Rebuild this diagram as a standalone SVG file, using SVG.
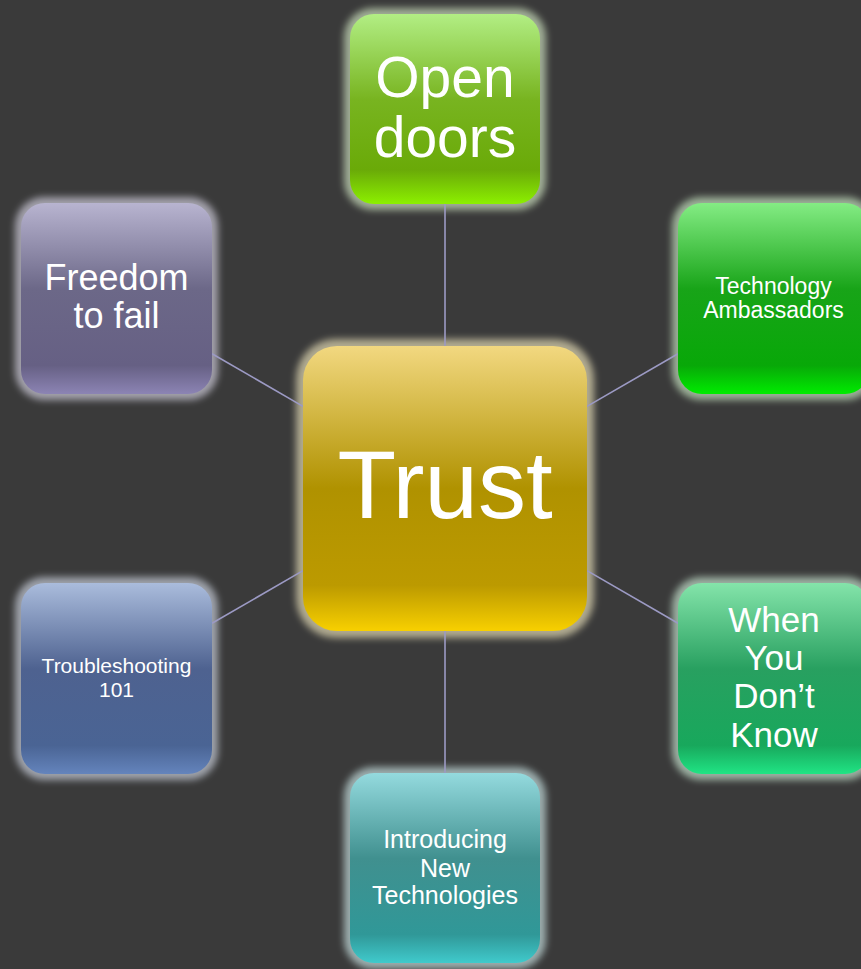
<svg xmlns="http://www.w3.org/2000/svg" width="861" height="969" viewBox="0 0 861 969">
  <style>
    .label { font-family: "Liberation Sans", Arial, sans-serif; fill: #ffffff; text-anchor: middle; }
    .link { stroke: #9c9ac4; stroke-width: 1.6; fill: none; }
    .halo { filter: url(#soft); }
  </style>
  <defs>
    <filter id="soft" x="-20%" y="-20%" width="140%" height="140%">
      <feGaussianBlur stdDeviation="3.5"/>
    </filter>
    <linearGradient id="gOpen" x1="0" y1="0" x2="0" y2="1">
      <stop offset="0" stop-color="#b2ee84"/>
      <stop offset="0.45" stop-color="#78b420"/>
      <stop offset="0.82" stop-color="#6aaa08"/>
      <stop offset="1" stop-color="#8cf000"/>
    </linearGradient>
    <linearGradient id="gTrust" x1="0" y1="0" x2="0" y2="1">
      <stop offset="0" stop-color="#f2d880"/>
      <stop offset="0.5" stop-color="#b09200"/>
      <stop offset="0.84" stop-color="#bc9a00"/>
      <stop offset="1" stop-color="#f8d000"/>
    </linearGradient>
    <linearGradient id="gFree" x1="0" y1="0" x2="0" y2="1">
      <stop offset="0" stop-color="#b8b4d0"/>
      <stop offset="0.45" stop-color="#6c6888"/>
      <stop offset="0.85" stop-color="#666084"/>
      <stop offset="1" stop-color="#8c84b4"/>
    </linearGradient>
    <linearGradient id="gAmb" x1="0" y1="0" x2="0" y2="1">
      <stop offset="0" stop-color="#84ec84"/>
      <stop offset="0.45" stop-color="#18a418"/>
      <stop offset="0.85" stop-color="#08a808"/>
      <stop offset="1" stop-color="#00ec00"/>
    </linearGradient>
    <linearGradient id="gTrouble" x1="0" y1="0" x2="0" y2="1">
      <stop offset="0" stop-color="#aabcdc"/>
      <stop offset="0.45" stop-color="#4e6290"/>
      <stop offset="0.85" stop-color="#4a6494"/>
      <stop offset="1" stop-color="#6484bc"/>
    </linearGradient>
    <linearGradient id="gWhen" x1="0" y1="0" x2="0" y2="1">
      <stop offset="0" stop-color="#84e4aa"/>
      <stop offset="0.45" stop-color="#28a060"/>
      <stop offset="0.85" stop-color="#18a85c"/>
      <stop offset="1" stop-color="#20e484"/>
    </linearGradient>
    <linearGradient id="gIntro" x1="0" y1="0" x2="0" y2="1">
      <stop offset="0" stop-color="#94dade"/>
      <stop offset="0.45" stop-color="#40908f"/>
      <stop offset="0.85" stop-color="#309898"/>
      <stop offset="1" stop-color="#40cacc"/>
    </linearGradient>
  </defs>

  <!-- backdrop -->
  <rect x="0" y="0" width="861" height="969" fill="#3a3a3a"/>

  <!-- node halos -->
  <g id="halos">
    <rect class="halo" x="344" y="8" width="202" height="202" rx="29" fill="#a0ae96"/>
    <rect class="halo" x="296" y="339" width="298" height="299" rx="40" fill="#b0aa90"/>
    <rect class="halo" x="15" y="197" width="203" height="203" rx="29" fill="#a2a0aa"/>
    <rect class="halo" x="672" y="197" width="203" height="203" rx="29" fill="#9cb098"/>
    <rect class="halo" x="15" y="577" width="203" height="203" rx="29" fill="#9ea2aa"/>
    <rect class="halo" x="672" y="577" width="203" height="203" rx="29" fill="#9cb0a2"/>
    <rect class="halo" x="344" y="767" width="202" height="202" rx="29" fill="#9caeae"/>
  </g>

  <!-- connectors from the hub to each topic -->
  <g id="connectors">
    <line class="link" x1="445" y1="204" x2="445" y2="346"/>
    <line class="link" x1="445" y1="631" x2="445" y2="773"/>
    <line class="link" x1="303" y1="406.4" x2="212" y2="353.7"/>
    <line class="link" x1="587" y1="406.4" x2="678" y2="353.7"/>
    <line class="link" x1="303" y1="570.6" x2="212" y2="623.3"/>
    <line class="link" x1="587" y1="570.6" x2="678" y2="623.3"/>
  </g>

  <g id="node-open-doors">
    <rect x="350" y="14" width="190" height="190" rx="24" fill="url(#gOpen)"/>
    <text class="label" x="445" y="97" font-size="57">Open</text>
    <text class="label" x="445" y="157" font-size="57">doors</text>
  </g>

  <g id="node-trust">
    <rect x="303" y="346" width="284" height="285" rx="34" fill="url(#gTrust)"/>
    <text class="label" x="445" y="518" font-size="96">Trust</text>
  </g>

  <g id="node-freedom">
    <rect x="21" y="203" width="191" height="191" rx="24" fill="url(#gFree)"/>
    <text class="label" x="116.5" y="290" font-size="36">Freedom</text>
    <text class="label" x="116.5" y="328" font-size="36">to fail</text>
  </g>

  <g id="node-ambassadors">
    <rect x="678" y="203" width="191" height="191" rx="24" fill="url(#gAmb)"/>
    <text class="label" x="773.5" y="294" font-size="23">Technology</text>
    <text class="label" x="773.5" y="318" font-size="23">Ambassadors</text>
  </g>

  <g id="node-troubleshooting">
    <rect x="21" y="583" width="191" height="191" rx="24" fill="url(#gTrouble)"/>
    <text class="label" x="116.5" y="673" font-size="21">Troubleshooting</text>
    <text class="label" x="116.5" y="697" font-size="21">101</text>
  </g>

  <g id="node-when">
    <rect x="678" y="583" width="191" height="191" rx="24" fill="url(#gWhen)"/>
    <text class="label" x="774" y="632" font-size="35">When</text>
    <text class="label" x="774" y="670" font-size="35">You</text>
    <text class="label" x="774" y="708" font-size="35">Don’t</text>
    <text class="label" x="774" y="747" font-size="35">Know</text>
  </g>

  <g id="node-introducing">
    <rect x="350" y="773" width="190" height="190" rx="24" fill="url(#gIntro)"/>
    <text class="label" x="445" y="848" font-size="25">Introducing</text>
    <text class="label" x="445" y="877" font-size="25">New</text>
    <text class="label" x="445" y="904" font-size="25">Technologies</text>
  </g>
</svg>
